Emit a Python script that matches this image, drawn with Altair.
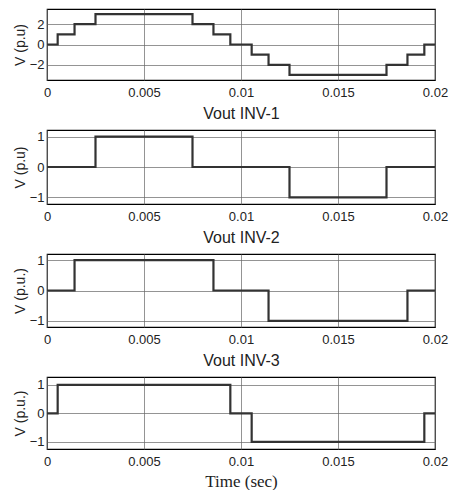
import altair as alt
import pandas as pd

# Switching instants (s) and output levels (p.u.) for each inverter waveform
t1 = [0, 0.00055, 0.00142, 0.0025, 0.0075, 0.00858, 0.00945, 0.01055, 0.01142, 0.0125, 0.0175, 0.01858, 0.01945, 0.02]
v1 = [0, 1, 2, 3, 2, 1, 0, -1, -2, -3, -2, -1, 0, 0]

t2 = [0, 0.0025, 0.0075, 0.0125, 0.0175, 0.02]
v2 = [0, 1, 0, -1, 0, 0]

t3 = [0, 0.00142, 0.00858, 0.01142, 0.01858, 0.02]
v3 = [0, 1, 0, -1, 0, 0]

t4 = [0, 0.00055, 0.00945, 0.01055, 0.01945, 0.02]
v4 = [0, 1, 0, -1, 0, 0]

x_ticks = [0, 0.005, 0.01, 0.015, 0.02]
titles_x = ["Vout INV-1", "Vout INV-2", "Vout INV-3", "Time (sec)"]
titles_y = ["V (p.u)", "V (p.u)", "V (p.u.)", "V (p.u.)"]

W = 388


def panel(t, v, ydom, yticks, ytitle, xtitle, height, serif=False, tpad=6):
    df = pd.DataFrame({"t": t, "v": v})
    return alt.Chart(df).mark_line(
        interpolate="step-after", color="#333333", strokeWidth=2.2
    ).encode(
        x=alt.X("t:Q", scale=alt.Scale(domain=[0, 0.02], nice=False),
                axis=alt.Axis(values=x_ticks, format="~g", title=xtitle,
                              labelFontSize=13, labelPadding=6,
                              labelFlush=False, labelOverlap=False, labelBound=False,
                              titleFont="Liberation Serif" if serif else "Liberation Sans",
                              titleFontSize=17 if serif else 16,
                              titlePadding=tpad)),
        y=alt.Y("v:Q", scale=alt.Scale(domain=ydom, nice=False, zero=False),
                axis=alt.Axis(values=yticks, title=ytitle, titleFontSize=14,
                              labelFontSize=13, labelPadding=3,
                              labelFlush=False, labelOverlap=False,
                              titlePadding=2)),
    ).properties(width=W, height=height)


p1 = panel(t1, v1, [-3.5, 3.5], [-2, 0, 2], titles_y[0], titles_x[0], 71)
p2 = panel(t2, v2, [-1.22, 1.22], [-1, 0, 1], titles_y[1], titles_x[1], 74)
p3 = panel(t3, v3, [-1.2, 1.2], [-1, 0, 1], titles_y[2], titles_x[2], 73)
p4 = panel(t4, v4, [-1.25, 1.28], [-1, 0, 1], titles_y[3], titles_x[3], 72, serif=True, tpad=5)

chart = alt.vconcat(p1, p2, p3, p4, spacing=7).properties(
    padding={"left": 4, "top": 0, "right": 0, "bottom": 0},
    background="white",
).configure_view(
    stroke="black", strokeWidth=1.2
).configure_axis(
    domain=False, ticks=False, tickSize=0,
    labelFont="Liberation Sans", labelColor="#222222",
    titleFont="Liberation Sans", titleFontWeight="normal", titleColor="#222222",
    grid=True, gridColor="#666666", gridWidth=0.7, gridOpacity=1,
)

chart.save("out.html", embed_options={"renderer": "svg", "actions": False})
